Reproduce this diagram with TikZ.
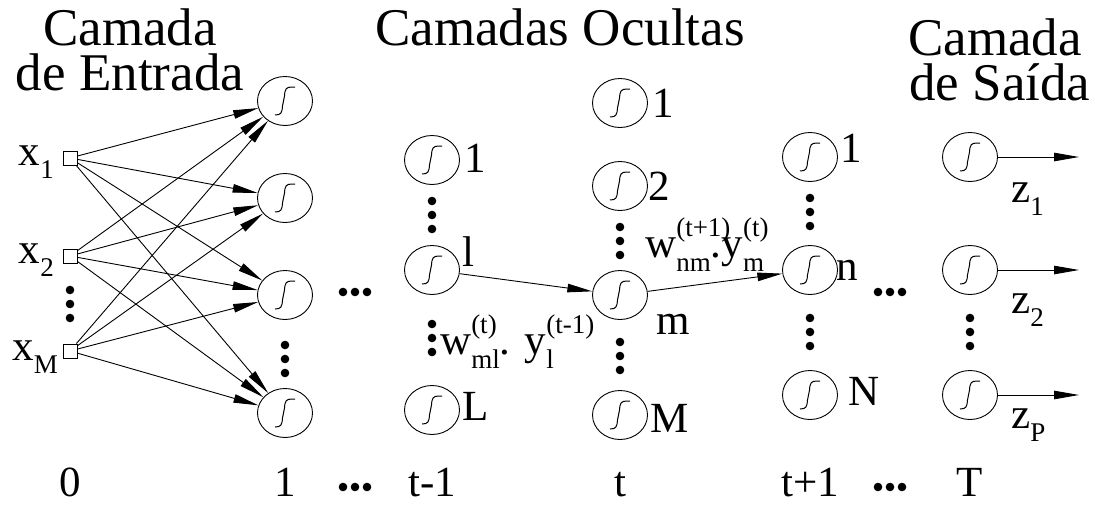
\documentclass[tikz,border=0pt]{standalone}
\usepackage{fontspec}
\setmainfont{Liberation Serif}
\usetikzlibrary{shapes.geometric,arrows.meta}
\newcommand{\ttl}{\fontsize{53}{45}\selectfont}
\newcommand{\lbl}{\fontsize{43}{46}\selectfont}
\newcommand{\sml}{\fontsize{27}{28}\selectfont}
\newcommand{\sbx}[1]{\raisebox{-13pt}{\sml #1}}
\newcommand{\supsub}[2]{%
  \rlap{\raisebox{21pt}{\sml #1}}\raisebox{-14pt}{\sml #2}}
\begin{document}
\begin{tikzpicture}[x=1pt,y=-1pt,
  neuron/.style={draw, ellipse, minimum width=55pt, minimum height=49pt,
    inner sep=0pt, line width=0.9pt,
    path picture={\draw[line width=1pt, shift={(path picture bounding box.center)}]
      (-10,14) .. controls (-4,14) and (-3,12) .. (-2.5,5)
      -- (-0.5,-5) .. controls (0,-12) and (1,-14) .. (7,-14) -- (10,-14);}},
  inp/.style={draw, rectangle, minimum size=14pt, inner sep=0pt, line width=0.9pt},
  conn/.style={line width=0.9pt, -{Triangle[length=25pt,width=8.5pt]}},
  lab/.style={anchor=base west, inner sep=0pt, font=\lbl},
  idx/.style={anchor=base, inner sep=0pt, font=\lbl, text depth=0pt},
  ttlnode/.style={anchor=north, inner sep=0pt, font=\ttl, align=center},
  dotc/.style={fill=black}]
\useasboundingbox (0,0) rectangle (1095,506);

% titles
\node[ttlnode] (t1) at (130,9) {\makebox[0pt]{Camada}\\de Entrada};
\node[ttlnode] (t2) at (560,9) {Camadas Ocultas};
\node[ttlnode] (t3) at (1000,19) {\makebox[0pt]{\hspace*{-10pt}Camada}\\de Saída};

% inputs
\node[inp] (x1) at (70,158) {};
\node[inp] (x2) at (70,256) {};
\node[inp] (xM) at (70,351) {};
\node[anchor=base east, inner sep=0pt, font=\lbl] (lx1) at (54,165) {x\sbx{1}};
\node[anchor=base east, inner sep=0pt, font=\lbl] (lx2) at (54,263) {x\sbx{2}};
\node[anchor=base east, inner sep=0pt, font=\lbl] (lxM) at (58,360) {x\sbx{M}};
\foreach \y in {290,304,318} \fill[dotc] (70,\y) circle (4.3);

% layer 1
\node[neuron] (h1) at (285,101) {};
\node[neuron] (h2) at (285,198) {};
\node[neuron] (h3) at (285,295) {};
\node[neuron] (h4) at (285,413) {};
\foreach \y in {345,359,373} \fill[dotc] (285,\y) circle (4.3);
\foreach \s in {x1,x2,xM}
  \foreach \t in {h1,h2,h3,h4}
    \draw[conn] (\s) -- (\t);

\foreach \x in {343,355,367} \fill[dotc] (\x,292) circle (4.3);

% layer t-1
\node[neuron] (a1) at (432,160) {};
\node[neuron] (al) at (432,270) {};
\node[neuron] (aL) at (432,410) {};
\node[lab] (la1) at (464,172) {1};
\node[lab] (lal) at (462,266) {l};
\node[lab] (laL) at (462,420) {L};
\foreach \y in {201,215,229} \fill[dotc] (432,\y) circle (4.3);
\foreach \y in {324,338,352} \fill[dotc] (432,\y) circle (4.3);

% layer t
\node[neuron] (b1) at (620,103) {};
\node[neuron] (b2) at (620,186) {};
\node[neuron] (bm) at (620,295) {};
\node[neuron] (bM) at (620,415) {};
\node[lab] (lb1) at (652,117) {1};
\node[lab] (lb2) at (648,200) {2};
\node[lab] (lbm) at (656,334) {m};
\node[lab] (lbM) at (650,432) {M};
\foreach \y in {227,241,255} \fill[dotc] (620,\y) circle (4.3);
\foreach \y in {342,356,370} \fill[dotc] (620,\y) circle (4.3);

% layer t+1
\node[neuron] (c1) at (810,157) {};
\node[neuron] (cn) at (810,270) {};
\node[neuron] (cN) at (810,395) {};
\node[lab] (lc1) at (840,162) {1};
\node[lab] (lcn) at (836,280) {n};
\node[lab] (lcN) at (848,405) {N};
\foreach \y in {198,212,226} \fill[dotc] (810,\y) circle (4.3);
\foreach \y in {318,332,346} \fill[dotc] (810,\y) circle (4.3);

\foreach \x in {878,890,902} \fill[dotc] (\x,292) circle (4.3);

% output layer
\node[neuron] (o1) at (970,157) {};
\node[neuron] (o2) at (970,270) {};
\node[neuron] (oP) at (970,395) {};
\foreach \y in {318,332,346} \fill[dotc] (970,\y) circle (4.3);
\coordinate (e1) at (1079,157);
\coordinate (e2) at (1079,270);
\coordinate (eP) at (1079,395);
\draw[conn] (o1) -- (e1);
\draw[conn] (o2) -- (e2);
\draw[conn] (oP) -- (eP);
\node[lab] (z1) at (1011,202) {z\sbx{1}};
\node[lab] (z2) at (1011,313) {z\sbx{2}};
\node[lab] (zP) at (1011,428) {z\sbx{P}};

% hidden connections
\draw[conn] (al) -- (bm);
\draw[conn] (bm) -- (cn);
\node[lab] (w1) at (440,354) {w\supsub{(t)}{ml}. y\supsub{(t-1)}{l}};
\node[lab] (w2) at (645,257) {w\supsub{(t+1)}{nm}.y\supsub{(t)}{m}};

% bottom index labels
\node[idx] (b0) at (70,496) {0};
\node[idx] (bb1) at (285,496) {1};
\node[idx] (bt1) at (432,496) {t-1};
\node[idx] (bt) at (620,496) {t};
\node[idx] (btp) at (810,496) {t+1};
\node[idx] (bT) at (970,496) {T};
\foreach \x in {343,355,367} \fill[dotc] (\x,487) circle (4.3);
\foreach \x in {878,890,902} \fill[dotc] (\x,487) circle (4.3);
\end{tikzpicture}
\end{document}
